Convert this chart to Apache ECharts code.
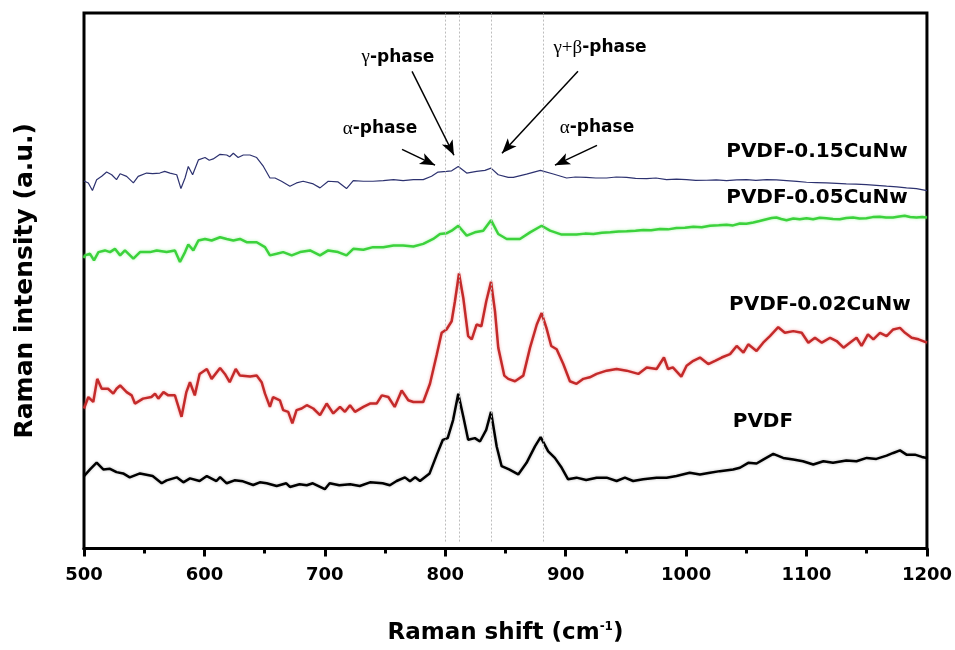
<!DOCTYPE html>
<html>
<head>
<meta charset="utf-8">
<script src="https://cdn.jsdelivr.net/npm/echarts@6/dist/echarts.min.js"></script>
<style>html,body{margin:0;padding:0;background:#fff;overflow:hidden;}#chart{width:955px;height:650px;}</style>
</head>
<body>
<div id="chart"></div>
<script>
const xTicks = [500, 600, 700, 800, 900, 1000, 1100, 1200];
const seriesNames = ['PVDF', 'PVDF-0.02CuNw', 'PVDF-0.05CuNw', 'PVDF-0.15CuNw'];
const phaseLines = [800, 812, 838, 881];

const pvdf = [[500,73.3],[505,80],[510.5,87],[516,80],[521.6,80.7],[527,77.3],[532.5,76],[538,72],[546.5,76],[557,73.3],[564.5,66],[568.6,69],[577,72],[582.5,67],[588,71],[596,68.3],[602,73.3],[610,68.3],[613,72.3],[618.5,66],[625,69],[632,68],[640.5,64.3],[646,67],[651.7,66],[660,63.3],[668,66],[671,62.3],[679,65],[685,64],[690,66],[700,60],[704,66],[712,64],[721,65],[729,63.3],[737.5,67],[748,66],[754,64],[759.6,68.3],[766.5,72],[770.7,68],[775,72],[779,68.3],[787,76],[793,95],[798,110],[802,111.7],[806.5,130],[810.8,156.7],[815,133.3],[819,110],[824.6,111.7],[828.8,108.3],[834,120],[838,138.3],[842.7,103.3],[846.8,83.3],[853,80],[860.6,75],[867.5,86.7],[874.5,103.3],[879.2,112.7],[885.5,98.3],[891,91.7],[896.7,81.7],[902,70],[909,71.7],[917,69.3],[925.7,71.7],[934,71.7],[942.3,68.3],[949.2,71.7],[956,68.3],[964.4,70],[975.5,71.7],[983.8,71.7],[992,73.3],[1003,76.7],[1011.5,75],[1019.8,76.7],[1028,78.3],[1039,80],[1044.7,81.7],[1051.6,86.7],[1058.5,86],[1064,90],[1072.4,95.7],[1080.6,91.7],[1089,90],[1097,88.3],[1105.6,85],[1114,88.3],[1122,86.7],[1133,89],[1141.5,88.3],[1150,91.7],[1158,90.7],[1166.5,94],[1172,96.7],[1177.6,99.3],[1183,95],[1190,95],[1195.8,92.7],[1200,91.7]];

const cu002 = [[500,141.7],[503.6,153.3],[507.7,148.3],[511,171.7],[514.7,161.7],[520,161.7],[524.3,156.7],[527,161.7],[530,165],[535.4,158.3],[539.6,155],[542.3,146.7],[549,151.7],[556,153.3],[559,156.7],[561.7,151.7],[566,158.3],[570,155],[575.5,155],[581,133.3],[585,158.3],[588,168.3],[592,155],[596,176.7],[602,181.7],[606,171.7],[613,182.7],[617,176.7],[621,168.3],[626,181.7],[629.5,175],[638,174],[643.4,175],[647.5,168.3],[650.3,156.7],[654.4,143.3],[657,153.3],[662.7,150],[665.4,140],[669.6,138.3],[673,126.7],[676.5,140],[680.7,141.7],[685,145],[690.4,141.7],[696,135],[701.5,146.7],[707,136.7],[712.6,143.3],[716.7,138.3],[720.9,145],[725,138.3],[732,143.3],[737.5,146.7],[743,146.7],[747.3,155],[752.7,153.3],[758,143.3],[763.8,160],[769.3,150],[773.5,148.3],[781.7,148.3],[787.3,166.7],[793,196.7],[797,218.3],[801,221.7],[805.3,230],[808,250],[811.4,278.3],[815,253.3],[819,215],[822,211.7],[826,226.7],[830,225],[834,250],[838,270],[841.3,240],[844,203.3],[849,175],[852.3,171.7],[857.9,169.3],[864.8,175],[870.4,203.3],[876,226.7],[880,238.3],[884,223.3],[888,205],[892.5,201.7],[898,186.7],[903.5,169.3],[909,166.7],[914.7,171.7],[920,173.3],[925.7,176.7],[934,180],[942.3,181.7],[950.6,180],[960.3,176.7],[967.3,183.3],[975.5,181.7],[981.6,193.3],[985,181.7],[989,183.3],[996,174],[1000.4,185],[1006,190],[1011.5,193.3],[1018.4,186.7],[1024,190],[1029.5,193.3],[1036.5,196.7],[1042,205],[1047.6,198.3],[1051.6,206.7],[1058.5,200],[1064,208.3],[1069.6,215],[1076.5,224],[1082,218.3],[1089,220],[1096,218.3],[1101.5,208.3],[1107,213.3],[1112.7,208.3],[1119.6,213.3],[1125,210],[1130.7,203.3],[1136,208.3],[1141.5,213.3],[1145.7,205],[1151,216.7],[1155.5,211.7],[1161,218.3],[1166.5,215],[1172,221.7],[1177.6,223.3],[1181.8,218.3],[1187.3,213.3],[1193,211.7],[1200,208.3]];

const cu005 = [[500,294],[500.8,296.7],[505,298.3],[508.3,291.7],[512,300],[517.4,301.7],[521.6,300],[525.7,303.3],[530,296.7],[534,301.7],[541,293.3],[546.5,300],[554.8,300],[560.4,301.7],[568.6,300],[575.5,301.7],[579.7,290],[583.9,300],[586.6,307.7],[590.8,301.7],[595,311.7],[600.5,313.3],[606,311.7],[613,315],[618.5,313.3],[624,311.7],[629.5,313.3],[635,310],[643.4,310],[650.3,305],[654.4,296.7],[660,298.3],[665.4,300],[672.5,296.7],[679.4,300],[687.7,301.7],[696,296.7],[702.8,301.7],[711,300],[718,296.7],[723.6,303.3],[732,302.3],[740,305],[748.5,305],[757,306.7],[765,306.7],[773.5,305.7],[781.7,308.3],[790,313.3],[795.6,318.3],[801,319],[805.3,321.7],[810.8,326.7],[817.8,316.7],[824.6,320],[831.5,321.7],[838,332.3],[844,318.3],[851,313.3],[862,313.3],[870.4,320],[880,326.7],[887,321.7],[896.7,317.7],[909,317.7],[916,318.7],[923,318.3],[930,319.5],[937,320],[944,320.8],[950.6,321],[958,321.5],[964.4,322.3],[971,322],[978.3,323.3],[985,323],[992,324.3],[999,324.6],[1006,325.7],[1013,325.2],[1019.8,326.7],[1027,327.2],[1033.6,327.7],[1039,327],[1044.7,329],[1050,328.7],[1055.8,330],[1061,331.5],[1066.8,333.3],[1071,334.5],[1075,335],[1079,333.5],[1083.4,332.3],[1089,334],[1094.4,333.3],[1100,334.3],[1105.5,333.3],[1111,334.8],[1116.5,334.3],[1122,333.6],[1127.6,333.3],[1133,334.6],[1138.6,335],[1144,334],[1149.7,334.3],[1155,335.4],[1160.8,335.7],[1166,335],[1171.8,335],[1177,336],[1181.5,336.7],[1186,335.5],[1191.3,335],[1196,335.6],[1200,335]];

const cu015 = [[500,372],[500.8,373.3],[503.6,370],[507,362.3],[510.5,373.3],[514.7,376.7],[518.8,381],[523,378.3],[527,373.3],[530,379.3],[535.4,376.7],[541,370],[545,376.7],[552,380],[557,379.5],[563,380],[567,381.7],[571.4,380],[577,378.3],[580.5,364.3],[583.9,375],[586.6,386.7],[590.2,378.3],[595,393.3],[600.5,395.7],[604,393],[607.3,394.3],[613,399],[618.5,398.3],[621,396.5],[624,400],[628,395.7],[632.3,398.3],[637.8,398.3],[643.4,395.7],[649,386.7],[654.4,375],[658.6,375],[664,371.7],[671,366.7],[676.5,370],[682,371.7],[690.4,369],[696,365],[702.8,371.7],[711,371],[718,364.3],[723.6,372.3],[732,371.7],[740,371.7],[748.5,372.3],[757,373.3],[765,372.3],[773.5,373.3],[781.7,373.3],[788.6,376.7],[794,381],[801,381.7],[805.3,382.3],[810.8,386.7],[817.8,380],[826,381.7],[833,382.7],[838,385],[844,378.3],[852.3,375.7],[856.5,375.7],[867.5,379],[879,382.7],[889.7,379],[900.8,375],[908,376],[917,375.7],[925,375],[934,375],[942,376],[950.6,375.7],[958,374.6],[967.3,374.3],[975,375],[983.8,373.3],[992,373.8],[1000.4,373.3],[1008,372.5],[1017,372.7],[1025,373],[1033.6,372.3],[1042,373],[1050.2,373.3],[1058,372.6],[1066.8,373.3],[1075,373],[1083.4,372.3],[1092,371.5],[1100,370.7],[1108,370.4],[1116.5,370],[1125,369.5],[1133,369],[1141,368.8],[1149.7,368.3],[1158,367.6],[1166.5,366.7],[1175,366],[1183,365],[1191.3,364.3],[1200,362.3]];

const phaseLabels = [
  {greek: 'γ', rest: '-phase', pos: [760.7, 497]},
  {greek: 'α', rest: '-phase', pos: [745.8, 425]},
  {greek: 'γ+β', rest: '-phase', pos: [928.5, 507]},
  {greek: 'α', rest: '-phase', pos: [926, 426]}
];
const arrows = [
  [[764.1, 404], [791.5, 388]],
  [[772.4, 483], [807.2, 398]],
  [[910.2, 483], [847.1, 400]],
  [[926, 408], [891.1, 388]]
];
const seriesLabelPos = [[1063.8, 128], [1111.1, 247], [1108.7, 355], [1108.7, 402]];

const FONT = 'DejaVu Sans';
const chart = echarts.init(document.getElementById('chart'), null, {renderer: 'canvas'});

function labelMark(text, pos, size) {
  return {
    coord: pos, value: 0, symbol: 'circle', symbolSize: 0,
    label: {show: true, position: 'inside', formatter: text, fontFamily: FONT, fontWeight: 'bold', fontSize: size, color: '#000'}
  };
}
function phaseMark(p) {
  return {
    coord: p.pos, value: 0, symbol: 'circle', symbolSize: 0,
    label: {
      show: true, position: 'inside', formatter: '{g|' + p.greek + '}{t|' + p.rest + '}',
      rich: {
        g: {fontFamily: 'Liberation Serif', fontSize: 19, color: '#000', lineHeight: 22},
        t: {fontFamily: FONT, fontWeight: 'bold', fontSize: 17, color: '#000', lineHeight: 22}
      }
    }
  };
}

const colors = ['#000000', '#c42a2a', '#3cd23c', '#2d3270'];
const widths = [2.5, 2.5, 2.5, 1.2];
const shadows = ['rgba(0,0,0,0.25)', 'rgba(235,110,110,0.6)', 'rgba(120,235,120,0.6)', 'rgba(0,0,0,0)'];
const datasets = [pvdf, cu002, cu005, cu015];

const series = datasets.map((d, i) => ({
  name: seriesNames[i], type: 'line', data: d, showSymbol: false, symbol: 'none',
  smooth: false, z: 3,
  lineStyle: {color: colors[i], width: widths[i], shadowBlur: 3, shadowColor: shadows[i]},
  markPoint: {
    silent: true, animation: false,
    data: [labelMark(seriesNames[i], seriesLabelPos[i], 20)]
  }
}));

series.push({
  type: 'line', data: [], z: 2, silent: true,
  markLine: {
    silent: true, animation: false, symbol: ['none', 'none'],
    label: {show: false},
    lineStyle: {color: '#bdbdbd', type: [2, 2], width: 1},
    data: phaseLines.map(x => [{coord: [x, 7]}, {coord: [x, 542]}])
  }
});
series.push({
  type: 'line', data: [], z: 5, silent: true,
  markLine: {
    silent: true, animation: false, symbol: ['none', 'arrow'], symbolSize: [9, 15],
    label: {show: false},
    lineStyle: {color: '#000', type: 'solid', width: 1.5},
    data: arrows.map(a => [{coord: a[0]}, {coord: a[1]}])
  },
  markPoint: {
    silent: true, animation: false,
    data: phaseLabels.map(phaseMark)
  }
});

chart.setOption({
  animation: false,
  backgroundColor: '#fff',
  grid: {left: 84, right: 27, top: 13, bottom: 95, show: true, borderColor: '#000', borderWidth: 3, containLabel: false},
  xAxis: {
    type: 'value', min: xTicks[0], max: xTicks[xTicks.length - 1], interval: 100,
    name: '{a|Raman shift (cm}{b|-1}{a|)}', nameLocation: 'middle', nameGap: 72,
    nameTextStyle: {
      rich: {
        a: {fontFamily: FONT, fontWeight: 'bold', fontSize: 23, color: '#000', lineHeight: 26},
        b: {fontFamily: FONT, fontWeight: 'bold', fontSize: 12, color: '#000', verticalAlign: 'top', lineHeight: 26}
      }
    },
    axisLine: {show: true, lineStyle: {color: '#000', width: 3}},
    axisTick: {show: true, inside: false, length: 8, lineStyle: {color: '#000', width: 3}},
    minorTick: {show: true, splitNumber: 2, length: 5, lineStyle: {color: '#000', width: 3}},
    splitLine: {show: false}, minorSplitLine: {show: false},
    axisLabel: {fontFamily: FONT, fontWeight: 'bold', fontSize: 18, color: '#000', margin: 18, formatter: v => String(v)}
  },
  yAxis: {
    type: 'value', min: 0, max: 542,
    name: 'Raman intensity (a.u.)', nameLocation: 'middle', nameGap: 46,
    nameTextStyle: {fontFamily: FONT, fontWeight: 'bold', fontSize: 25, color: '#000'},
    axisLine: {show: false}, axisTick: {show: false}, axisLabel: {show: false}, splitLine: {show: false}
  },
  series: series
});
</script>
</body>
</html>
